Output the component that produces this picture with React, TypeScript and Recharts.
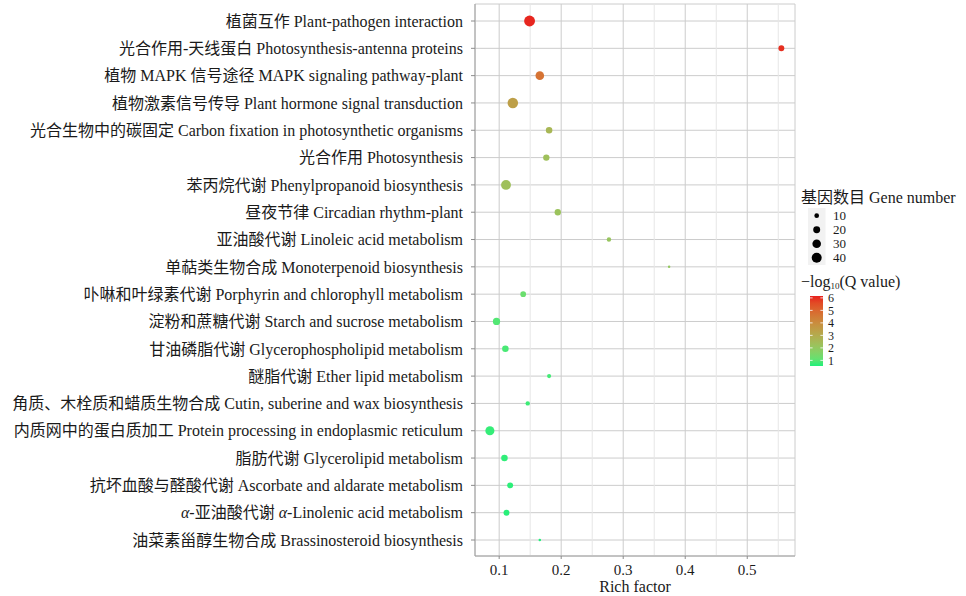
import React from 'react';
import {
  ScatterChart, Scatter, XAxis, YAxis, ZAxis, CartesianGrid, Cell,
  ReferenceLine, Label,
} from 'recharts';

const categories = [
  '植菌互作 Plant-pathogen interaction',
  '光合作用-天线蛋白 Photosynthesis-antenna proteins',
  '植物 MAPK 信号途径 MAPK signaling pathway-plant',
  '植物激素信号传导 Plant hormone signal transduction',
  '光合生物中的碳固定 Carbon fixation in photosynthetic organisms',
  '光合作用 Photosynthesis',
  '苯丙烷代谢 Phenylpropanoid biosynthesis',
  '昼夜节律 Circadian rhythm-plant',
  '亚油酸代谢 Linoleic acid metabolism',
  '单萜类生物合成 Monoterpenoid biosynthesis',
  '卟啉和叶绿素代谢 Porphyrin and chlorophyll metabolism',
  '淀粉和蔗糖代谢 Starch and sucrose metabolism',
  '甘油磷脂代谢 Glycerophospholipid metabolism',
  '醚脂代谢 Ether lipid metabolism',
  '角质、木栓质和蜡质生物合成 Cutin, suberine and wax biosynthesis',
  '内质网中的蛋白质加工 Protein processing in endoplasmic reticulum',
  '脂肪代谢 Glycerolipid metabolism',
  '抗坏血酸与醛酸代谢 Ascorbate and aldarate metabolism',
  'α-亚油酸代谢 α-Linolenic acid metabolism',
  '油菜素甾醇生物合成 Brassinosteroid biosynthesis',
];

const richFactor = [
  0.149, 0.555, 0.1655, 0.122, 0.1805, 0.176, 0.111, 0.1945, 0.277, 0.374,
  0.1387, 0.0957, 0.110, 0.1805, 0.146, 0.085, 0.1085, 0.1177, 0.1118, 0.1655,
];

const geneNumber = [
  47, 15, 30, 44, 18, 17, 39, 17, 9, 4,
  14, 22, 18, 8, 9, 33, 18, 15, 15, 4,
];

const negLogQ = [
  6.1, 6.0, 4.7, 3.4, 2.6, 2.3, 2.3, 2.2, 2.1, 2.0,
  1.2, 0.9, 0.8, 0.75, 0.7, 0.65, 0.62, 0.6, 0.58, 0.55,
];

const xTicks = [0.1, 0.2, 0.3, 0.4, 0.5];
const xMinorTicks = [0.15, 0.25, 0.35, 0.45, 0.55];
const xDomain: [number, number] = [0.061, 0.577];

const sizeBreaks = [10, 20, 30, 40];
const colorBreaks = [1, 2, 3, 4, 5, 6];
const qLimits: [number, number] = [0.55, 6.15];
const geneLimits: [number, number] = [2, 50];

const LOW = '#20F07A';
const HIGH = '#E8201E';

// ---- colour helpers (Lab interpolation like ggplot2) ----
function hexToRgb(h: string) {
  const v = parseInt(h.slice(1), 16);
  return [(v >> 16) & 255, (v >> 8) & 255, v & 255];
}
function toLin(c: number) { c /= 255; return c <= 0.04045 ? c / 12.92 : Math.pow((c + 0.055) / 1.055, 2.4); }
function fromLin(c: number) { const v = c <= 0.0031308 ? 12.92 * c : 1.055 * Math.pow(c, 1 / 2.4) - 0.055; return Math.max(0, Math.min(255, Math.round(v * 255))); }
const WX = 0.95047, WY = 1.0, WZ = 1.08883;
function f(t: number) { return t > 0.008856 ? Math.cbrt(t) : 7.787 * t + 16 / 116; }
function finv(t: number) { return t > 0.206893 ? t * t * t : (t - 16 / 116) / 7.787; }
function rgbToLab(rgb: number[]) {
  const [r, g, b] = rgb.map(toLin);
  const x = (0.4124 * r + 0.3576 * g + 0.1805 * b) / WX;
  const y = (0.2126 * r + 0.7152 * g + 0.0722 * b) / WY;
  const z = (0.0193 * r + 0.1192 * g + 0.9505 * b) / WZ;
  const fx = f(x), fy = f(y), fz = f(z);
  return [116 * fy - 16, 500 * (fx - fy), 200 * (fy - fz)];
}
function labToHex(lab: number[]) {
  const fy = (lab[0] + 16) / 116;
  const fx = fy + lab[1] / 500;
  const fz = fy - lab[2] / 200;
  const x = finv(fx) * WX, y = finv(fy) * WY, z = finv(fz) * WZ;
  const r = 3.2406 * x - 1.5372 * y - 0.4986 * z;
  const g = -0.9689 * x + 1.8758 * y + 0.0415 * z;
  const b = 0.0557 * x - 0.2040 * y + 1.0570 * z;
  const h = (n: number) => fromLin(n).toString(16).padStart(2, '0');
  return '#' + h(r) + h(g) + h(b);
}
const labLow = rgbToLab(hexToRgb(LOW));
const labHigh = rgbToLab(hexToRgb(HIGH));
function colorOf(q: number) {
  const t = Math.max(0, Math.min(1, (q - qLimits[0]) / (qLimits[1] - qLimits[0])));
  return labToHex(labLow.map((v, i) => v + (labHigh[i] - v) * t));
}

// size: area linear in gene number
function areaOf(n: number) { return (Math.PI / 4) * (2.6 * n - 4); }
const sizeRange: [number, number] = [areaOf(geneLimits[0]), areaOf(geneLimits[1])];
function radiusOf(n: number) {
  const a = sizeRange[0] + (n - geneLimits[0]) / (geneLimits[1] - geneLimits[0]) * (sizeRange[1] - sizeRange[0]);
  return Math.sqrt(a / Math.PI);
}

const data = categories.map((name, i) => ({
  name, rf: richFactor[i], n: geneNumber[i], q: negLogQ[i],
}));

const FONT = '"Liberation Serif", "Times New Roman", "Noto Sans CJK SC", serif';
const TEXT = '#1a1a1a';
const BORDER = '#a0a0a0';

const YTick = (props: any) => {
  const { x, y, payload } = props;
  const s: string = String(payload.value);
  const parts = s.split(/(α)/);
  return (
    <text x={x} y={y} dy="0.36em" textAnchor="end" fontFamily={FONT} fontSize={16} fill={TEXT}>
      {parts.map((p, i) => (
        <tspan key={i} fontStyle={p === 'α' ? 'italic' : 'normal'}>{p}</tspan>
      ))}
    </text>
  );
};

const XTick = (props: any) => {
  const { x, y, payload } = props;
  return (
    <text x={x} y={y} dy="0.75em" textAnchor="middle" fontFamily={FONT} fontSize={15} fill={TEXT}>
      {Number(payload.value).toFixed(1)}
    </text>
  );
};

const Legends = () => {
  const barX = 810, barW = 13, barTop = 296, barBot = 366;
  const qy = (v: number) => barBot - (v - qLimits[0]) / (qLimits[1] - qLimits[0]) * (barBot - barTop);
  const stops = Array.from({ length: 11 }, (_, i) => i / 10);
  return (
    <svg width={966} height={596} style={{ position: 'absolute', left: 0, top: 0, pointerEvents: 'none' }}>
      <defs>
        <linearGradient id="qgrad" x1="0" y1="1" x2="0" y2="0">
          {stops.map((t) => (
            <stop key={t} offset={t} stopColor={colorOf(qLimits[0] + t * (qLimits[1] - qLimits[0]))} />
          ))}
        </linearGradient>
      </defs>
      <text x={801} y={197} dy="0.36em" fontFamily={FONT} fontSize={16} fill={TEXT}>基因数目 Gene number</text>
      <rect x={808} y={208} width={17.5} height={57} fill="#f2f2f2" />
      {sizeBreaks.map((b, i) => {
        const cy = 215.7 + i * 14;
        return (
          <g key={b}>
            <circle cx={816.7} cy={cy} r={radiusOf(b)} fill="#000" />
            <text x={833} y={cy} dy="0.36em" fontFamily={FONT} fontSize={13} fill={TEXT}>{b}</text>
          </g>
        );
      })}
      <text x={801} y={281} dy="0.36em" fontFamily={FONT} fontSize={16} fill={TEXT}>
        <tspan>−log</tspan>
        <tspan fontSize={9} dy="2">10</tspan>
        <tspan dy="-2">(Q value)</tspan>
      </text>
      <rect x={barX} y={barTop} width={barW} height={barBot - barTop} fill="url(#qgrad)" />
      {colorBreaks.map((b) => {
        const yy = qy(b);
        return (
          <g key={b}>
            <line x1={barX} x2={barX + 2.6} y1={yy} y2={yy} stroke="#fff" strokeWidth={0.8} />
            <line x1={barX + barW - 2.6} x2={barX + barW} y1={yy} y2={yy} stroke="#fff" strokeWidth={0.8} />
            <text x={828} y={yy} dy="0.36em" fontFamily={FONT} fontSize={12} fill={TEXT}>{b}</text>
          </g>
        );
      })}
    </svg>
  );
};

export default function App() {
  return (
    <div style={{ position: 'absolute', left: 0, top: 0, width: 966, height: 596, background: '#fff' }}>
      <ScatterChart width={966} height={596} margin={{ top: 4, right: 171, bottom: 0, left: 0 }}>
        <CartesianGrid stroke="#cccccc" strokeWidth={1} />
        {xMinorTicks.map((v) => (
          <ReferenceLine key={v} x={v} stroke="#e6e6e6" strokeWidth={1} ifOverflow="hidden" />
        ))}
        <XAxis
          type="number"
          dataKey="rf"
          domain={xDomain}
          allowDataOverflow
          ticks={xTicks}
          height={40}
          tickSize={3}
          tickMargin={5}
          axisLine={{ stroke: BORDER }}
          tickLine={{ stroke: '#8c8c8c' }}
          tick={<XTick />}
        >
          <Label value="Rich factor" position="insideBottom" offset={4} style={{ fontFamily: FONT, fontSize: 16, fill: TEXT }} />
        </XAxis>
        <XAxis
          xAxisId="top"
          orientation="top"
          type="number"
          domain={xDomain}
          allowDataOverflow
          height={0}
          tick={false}
          tickLine={false}
          axisLine={{ stroke: BORDER }}
        />
        <YAxis
          type="category"
          dataKey="name"
          scale="point"
          reversed
          allowDuplicatedCategory={false}
          width={475}
          padding={{ top: 17, bottom: 16 }}
          interval={0}
          tickSize={4}
          tickMargin={8}
          axisLine={{ stroke: BORDER }}
          tickLine={{ stroke: '#8c8c8c' }}
          tick={<YTick />}
        />
        <YAxis
          yAxisId="right"
          orientation="right"
          type="number"
          width={0}
          tick={false}
          tickLine={false}
          axisLine={{ stroke: BORDER }}
        />
        <ZAxis type="number" dataKey="n" domain={geneLimits} range={sizeRange} />
        <Scatter data={data} isAnimationActive={false}>
          {data.map((d, i) => (
            <Cell key={i} fill={colorOf(d.q)} />
          ))}
        </Scatter>
      </ScatterChart>
      <Legends />
    </div>
  );
}
